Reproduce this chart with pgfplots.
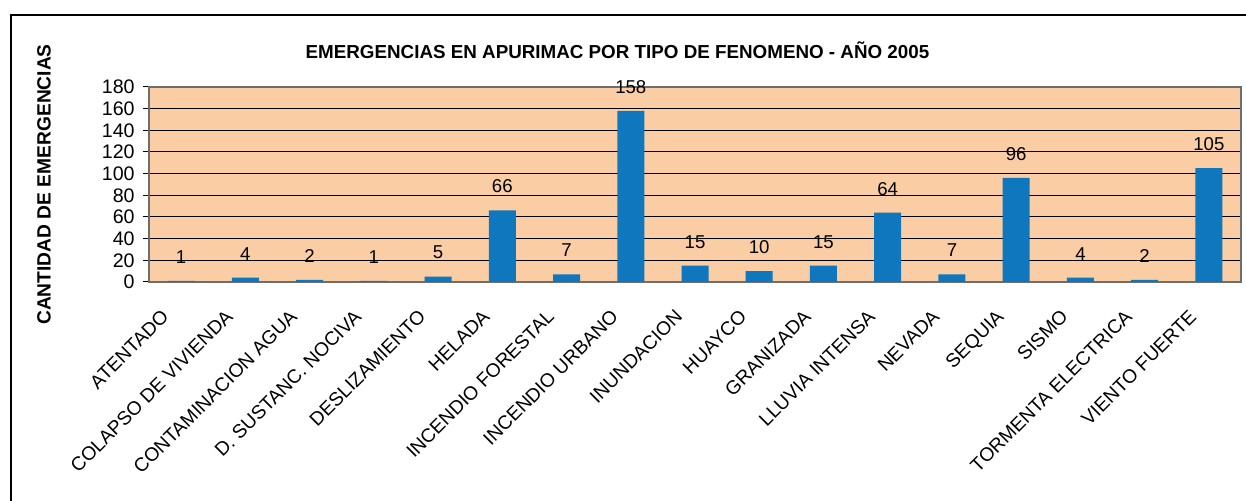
\documentclass[border=0pt]{standalone}
\usepackage{fontspec}
\setmainfont{Liberation Sans}
\usepackage{pgfplots}
\pgfplotsset{compat=1.18}
\definecolor{bg}{RGB}{250,205,164}
\definecolor{barblue}{RGB}{14,119,190}
\definecolor{axgray}{RGB}{110,110,110}
\begin{document}
\begin{tikzpicture}
\useasboundingbox (0pt,0pt) rectangle (623pt,250.5pt);
\draw[line width=1.2pt] (5.5pt,-5pt) -- (5.5pt,243pt) -- (630pt,243pt);
\begin{axis}[
  at={(74.5pt,109.5pt)}, anchor=south west,
  width=546pt, height=97.5pt, scale only axis,
  ybar, bar width=13.5pt,
  xmin=-0.5, xmax=16.5, ymin=0, ymax=180,
  ytick={0,20,...,180},
  xtick={0,...,16},
  xticklabels={ATENTADO,COLAPSO DE VIVIENDA,CONTAMINACION AGUA,D. SUSTANC. NOCIVA,DESLIZAMIENTO,HELADA,INCENDIO FORESTAL,INCENDIO URBANO,INUNDACION,HUAYCO,GRANIZADA,LLUVIA INTENSA,NEVADA,SEQUIA,SISMO,TORMENTA ELECTRICA,VIENTO FUERTE},
  minor xtick={-0.5,0.5,...,16.5},
  tick align=outside, major tick length=3pt, minor tick length=2.5pt,
  xtick pos=bottom, ytick pos=left,
  tick style={black, line width=0.5pt},
  minor tick style={black, line width=0.5pt},
  xtick style={draw=none},
  ymajorgrids, major grid style={black, line width=0.5pt},
  axis line style={axgray, line width=0.6pt},
  axis background/.style={fill=bg},
  /pgf/number format/assume math mode=true,
  ticklabel style={font=\fontsize{9.8}{11}\selectfont},
  xticklabel style={rotate=45, anchor=north east, inner sep=0pt, xshift=-14.5pt, yshift=0.3pt, font=\fontsize{9.6}{11}\selectfont},
  yticklabel style={inner sep=0pt, xshift=-4pt},
  ylabel={CANTIDAD DE EMERGENCIAS},
  ylabel style={at={(axis description cs:-0.0962,0.5)}, anchor=center, font=\bfseries\fontsize{9.6}{11}\selectfont},
  title={EMERGENCIAS EN APURIMAC POR TIPO DE FENOMENO - AÑO 2005},
  title style={at={(axis description cs:0.429,1.1256)}, anchor=center, font=\bfseries\fontsize{9.4}{11}\selectfont},
  clip=false,
  nodes near coords,
  every node near coord/.append style={font=\fontsize{9.3}{11}\selectfont, anchor=center, yshift=12pt, text=black},
]
\addplot[fill=barblue, draw=none] coordinates {
(0,1) (1,4) (2,2) (3,1) (4,5) (5,66) (6,7) (7,158) (8,15) (9,10) (10,15) (11,64) (12,7) (13,96) (14,4) (15,2) (16,105)
};
\end{axis}
\end{tikzpicture}
\end{document}
